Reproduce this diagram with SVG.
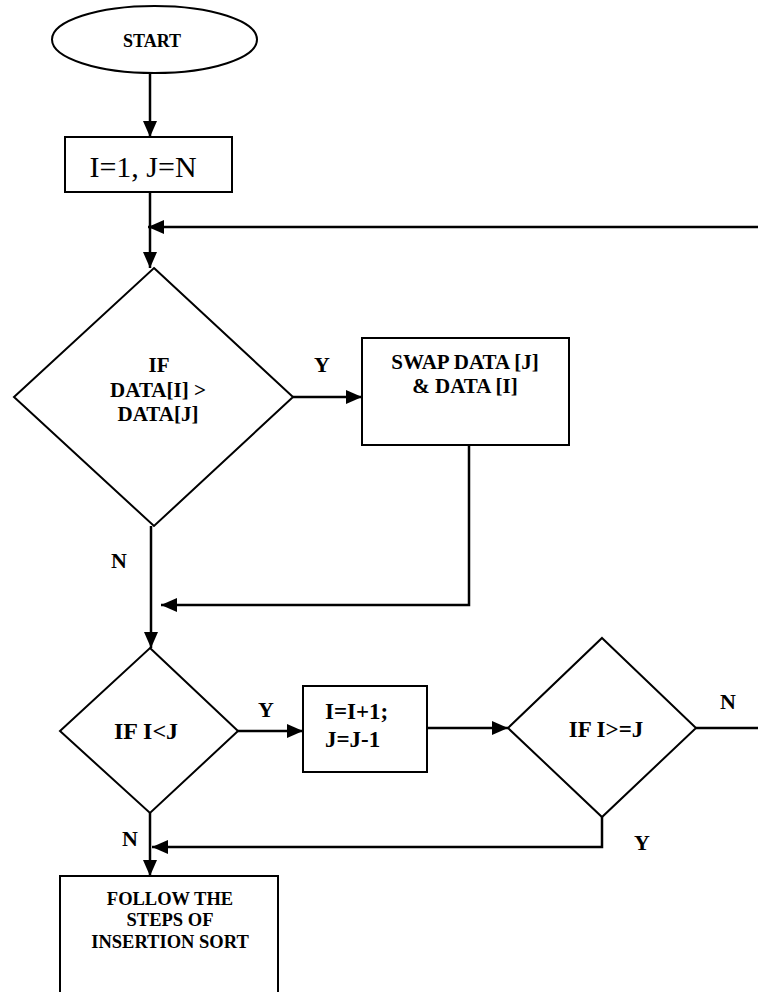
<svg xmlns="http://www.w3.org/2000/svg" width="758" height="992" viewBox="0 0 758 992">
<style>
.shape{fill:#fff;stroke:#000;stroke-width:2}
.conn{fill:none;stroke:#000;stroke-width:2.5}
.t{font-family:"Liberation Serif","Times New Roman",serif;font-weight:bold;fill:#000}
.c{text-anchor:middle}
</style>
<defs>
<marker id="ah" viewBox="0 0 16 14" refX="16" refY="7" markerWidth="16" markerHeight="14" markerUnits="userSpaceOnUse" orient="auto">
<path d="M0,0 L16,7 L0,14 Z" fill="#000"/>
</marker>
</defs>
<g id="connectors">
<path class="conn" d="M150,73 V137" marker-end="url(#ah)"/>
<path class="conn" d="M150,192 V268" marker-end="url(#ah)"/>
<path class="conn" d="M758,227 H148" marker-end="url(#ah)"/>
<path class="conn" d="M293,397 H362" marker-end="url(#ah)"/>
<path class="conn" d="M469,445 V605 H161" marker-end="url(#ah)"/>
<path class="conn" d="M151,526 V648" marker-end="url(#ah)"/>
<path class="conn" d="M238,731 H303" marker-end="url(#ah)"/>
<path class="conn" d="M427,728 H508" marker-end="url(#ah)"/>
<path class="conn" d="M696,728 H758"/>
<path class="conn" d="M602,817 V847 H152" marker-end="url(#ah)"/>
<path class="conn" d="M150,813 V876" marker-end="url(#ah)"/>
<text class="t c" x="322" y="372" font-size="22">Y</text>
<text class="t c" x="119" y="568" font-size="22">N</text>
<text class="t c" x="266" y="717" font-size="22">Y</text>
<text class="t c" x="728" y="709" font-size="22">N</text>
<text class="t c" x="642" y="850" font-size="22">Y</text>
<text class="t c" x="130" y="846" font-size="22">N</text>
</g>
<g id="start">
<ellipse class="shape" cx="154.5" cy="39.5" rx="102.5" ry="33.5"/>
<text class="t c" x="152" y="47" font-size="18">START</text>
</g>
<g id="init">
<rect class="shape" x="65" y="137" width="167" height="55"/>
<text x="143" y="177" font-size="30" text-anchor="middle" font-family="Liberation Serif, Times New Roman, serif">I=1, J=N</text>
</g>
<g id="cmp">
<polygon class="shape" points="154,268 293,397 154,526 14,397"/>
<text class="t c" x="159" y="372" font-size="21">IF</text>
<text class="t c" x="158" y="397" font-size="21">DATA[I] &gt;</text>
<text class="t c" x="158" y="421" font-size="21">DATA[J]</text>
</g>
<g id="swap">
<rect class="shape" x="362" y="338" width="207" height="107"/>
<text class="t c" x="465" y="369" font-size="21">SWAP DATA [J]</text>
<text class="t c" x="465" y="393" font-size="21">&amp; DATA [I]</text>
</g>
<g id="iltj">
<polygon class="shape" points="150,648 238,731 150,813 60,731"/>
<text class="t c" x="146" y="739" font-size="24">IF I&lt;J</text>
</g>
<g id="step">
<rect class="shape" x="303" y="686" width="124" height="86"/>
<text class="t" x="325" y="719" font-size="23">I=I+1;</text>
<text class="t" x="325" y="747" font-size="23">J=J-1</text>
</g>
<g id="igej">
<polygon class="shape" points="602,638 696,728 602,817 508,728"/>
<text class="t c" x="606" y="737" font-size="23">IF I&gt;=J</text>
</g>
<g id="insertion">
<rect class="shape" x="60" y="876" width="218" height="140"/>
<text class="t c" x="170" y="905" font-size="18.5">FOLLOW THE</text>
<text class="t c" x="170" y="926" font-size="18.5">STEPS OF</text>
<text class="t c" x="170" y="948" font-size="18.5">INSERTION SORT</text>
</g>
</svg>
